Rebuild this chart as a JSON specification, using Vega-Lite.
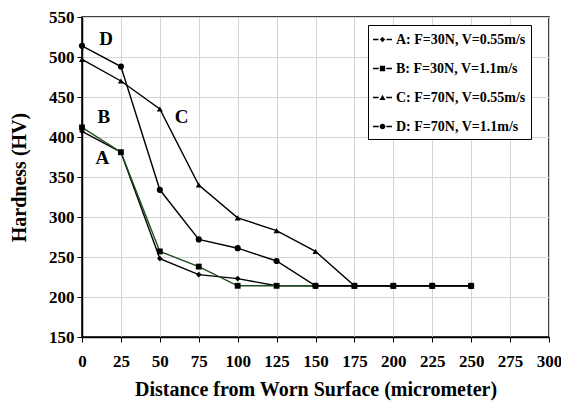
{
  "$schema": "https://vega.github.io/schema/vega-lite/v6.json",
  "width": 467,
  "height": 320,
  "autosize": "none",
  "padding": {"left": 82, "top": 17, "right": 12, "bottom": 69},
  "background": "white",
  "config": {
    "font": "Liberation Serif",
    "view": {"stroke": "black", "strokeWidth": 1.5},
    "axis": {
      "labelFont": "Liberation Serif",
      "labelFontWeight": "bold",
      "labelFontSize": 17,
      "labelColor": "black",
      "titleFont": "Liberation Serif",
      "titleFontWeight": "bold",
      "titleFontSize": 20,
      "titleColor": "black",
      "domainColor": "black",
      "domainWidth": 1.5,
      "tickColor": "black",
      "tickSize": 5,
      "gridColor": "#d4d4d4",
      "gridWidth": 1
    }
  },
  "data": {
    "values": [
      {"d": 0, "h": 407, "s": "A: F=30N, V=0.55m/s"},
      {"d": 25, "h": 381, "s": "A: F=30N, V=0.55m/s"},
      {"d": 50, "h": 248, "s": "A: F=30N, V=0.55m/s"},
      {"d": 75, "h": 228, "s": "A: F=30N, V=0.55m/s"},
      {"d": 100, "h": 223, "s": "A: F=30N, V=0.55m/s"},
      {"d": 125, "h": 214, "s": "A: F=30N, V=0.55m/s"},
      {"d": 150, "h": 214, "s": "A: F=30N, V=0.55m/s"},
      {"d": 175, "h": 214, "s": "A: F=30N, V=0.55m/s"},
      {"d": 200, "h": 214, "s": "A: F=30N, V=0.55m/s"},
      {"d": 225, "h": 214, "s": "A: F=30N, V=0.55m/s"},
      {"d": 250, "h": 214, "s": "A: F=30N, V=0.55m/s"},
      {"d": 0, "h": 412, "s": "B: F=30N, V=1.1m/s"},
      {"d": 25, "h": 381, "s": "B: F=30N, V=1.1m/s"},
      {"d": 50, "h": 257, "s": "B: F=30N, V=1.1m/s"},
      {"d": 75, "h": 238, "s": "B: F=30N, V=1.1m/s"},
      {"d": 100, "h": 214, "s": "B: F=30N, V=1.1m/s"},
      {"d": 125, "h": 214, "s": "B: F=30N, V=1.1m/s"},
      {"d": 150, "h": 214, "s": "B: F=30N, V=1.1m/s"},
      {"d": 175, "h": 214, "s": "B: F=30N, V=1.1m/s"},
      {"d": 200, "h": 214, "s": "B: F=30N, V=1.1m/s"},
      {"d": 225, "h": 214, "s": "B: F=30N, V=1.1m/s"},
      {"d": 250, "h": 214, "s": "B: F=30N, V=1.1m/s"},
      {"d": 0, "h": 497, "s": "C: F=70N, V=0.55m/s"},
      {"d": 25, "h": 470, "s": "C: F=70N, V=0.55m/s"},
      {"d": 50, "h": 435, "s": "C: F=70N, V=0.55m/s"},
      {"d": 75, "h": 340, "s": "C: F=70N, V=0.55m/s"},
      {"d": 100, "h": 299, "s": "C: F=70N, V=0.55m/s"},
      {"d": 125, "h": 283, "s": "C: F=70N, V=0.55m/s"},
      {"d": 150, "h": 257, "s": "C: F=70N, V=0.55m/s"},
      {"d": 175, "h": 214, "s": "C: F=70N, V=0.55m/s"},
      {"d": 200, "h": 214, "s": "C: F=70N, V=0.55m/s"},
      {"d": 225, "h": 214, "s": "C: F=70N, V=0.55m/s"},
      {"d": 250, "h": 214, "s": "C: F=70N, V=0.55m/s"},
      {"d": 0, "h": 514, "s": "D: F=70N, V=1.1m/s"},
      {"d": 25, "h": 488, "s": "D: F=70N, V=1.1m/s"},
      {"d": 50, "h": 334, "s": "D: F=70N, V=1.1m/s"},
      {"d": 75, "h": 272, "s": "D: F=70N, V=1.1m/s"},
      {"d": 100, "h": 261, "s": "D: F=70N, V=1.1m/s"},
      {"d": 125, "h": 245, "s": "D: F=70N, V=1.1m/s"},
      {"d": 150, "h": 214, "s": "D: F=70N, V=1.1m/s"},
      {"d": 175, "h": 214, "s": "D: F=70N, V=1.1m/s"},
      {"d": 200, "h": 214, "s": "D: F=70N, V=1.1m/s"},
      {"d": 225, "h": 214, "s": "D: F=70N, V=1.1m/s"},
      {"d": 250, "h": 214, "s": "D: F=70N, V=1.1m/s"}
    ]
  },
  "encoding": {
    "x": {
      "field": "d",
      "type": "quantitative",
      "scale": {"domain": [0, 300], "nice": false},
      "axis": {"values": [0, 25, 50, 75, 100, 125, 150, 175, 200, 225, 250, 275, 300], "title": "Distance from Worn Surface (micrometer)", "labelPadding": 11, "titlePadding": 10, "labelFlush": false}
    },
    "y": {
      "field": "h",
      "type": "quantitative",
      "scale": {"domain": [150, 550], "nice": false},
      "axis": {"values": [150, 200, 250, 300, 350, 400, 450, 500, 550], "title": "Hardness (HV)", "labelPadding": 3, "titlePadding": 19, "labelFlush": false}
    }
  },
  "layer": [
    {
      "mark": {"type": "line", "strokeWidth": 1.4},
      "encoding": {
        "color": {
          "field": "s",
          "type": "nominal",
          "scale": {"range": ["black", "#1e4d1e", "black", "black"]},
          "legend": null
        }
      }
    },
    {
      "mark": {"type": "point", "filled": true, "color": "black", "opacity": 1},
      "encoding": {
        "shape": {
          "field": "s",
          "type": "nominal",
          "scale": {"range": ["diamond", "square", "triangle-up", "circle"]},
          "legend": null
        },
        "size": {
          "field": "s",
          "type": "nominal",
          "scale": {"range": [32, 38, 36, 60]},
          "legend": null
        }
      }
    },
    {
      "mark": {"type": "point", "filled": true, "fill": "black", "size": 0, "strokeWidth": 0, "opacity": 1},
      "encoding": {
        "shape": {
          "field": "s",
          "type": "nominal",
          "scale": {"range": [
            "M-1,-0.08H-0.42V0.08H-1ZM0.42,-0.08H1V0.08H0.42ZM0,-0.28L0.28,0L0,0.28L-0.28,0Z",
            "M-1,-0.08H-0.4V0.08H-1ZM0.4,-0.08H1V0.08H0.4ZM-0.28,-0.28H0.28V0.28H-0.28Z",
            "M-1,-0.08H-0.4V0.08H-1ZM0.4,-0.08H1V0.08H0.4ZM0,-0.3L0.32,0.26H-0.32Z",
            "M-1,-0.08H-0.4V0.08H-1ZM0.4,-0.08H1V0.08H0.4ZM-0.3,0A0.3,0.3 0 1,0 0.3,0A0.3,0.3 0 1,0 -0.3,0Z"
          ]},
          "legend": {
            "title": null,
            "orient": "none",
            "legendX": 286,
            "legendY": 8,
            "strokeColor": "black",
            "fillColor": "white",
            "padding": 5,
            "rowPadding": 12,
            "symbolSize": 361,
            "symbolStrokeWidth": 0,
            "symbolOpacity": 1,
            "symbolFillColor": "black",
            "labelFont": "Liberation Serif",
            "labelFontWeight": "bold",
            "labelFontSize": 14,
            "labelColor": "black",
            "labelOffset": 4,
            "labelLimit": 300,
            "encode": {
              "symbols": {
                "update": {
                  "fill": {"signal": "indexof(datum.value, 'B:') == 0 ? '#1e4d1e' : 'black'"},
                  "opacity": {"value": 1}
                }
              }
            }
          }
        }
      }
    },
    {
      "data": {
        "values": [
          {"d": 15.5, "h": 522, "t": "D"},
          {"d": 14, "h": 425, "t": "B"},
          {"d": 13, "h": 374, "t": "A"},
          {"d": 64, "h": 425, "t": "C"}
        ]
      },
      "mark": {"type": "text", "font": "Liberation Serif", "fontWeight": "bold", "fontSize": 19, "color": "black"},
      "encoding": {"text": {"field": "t", "type": "nominal"}}
    }
  ],
  "resolve": {"scale": {"shape": "independent", "color": "independent"}, "legend": {"shape": "independent"}}
}
